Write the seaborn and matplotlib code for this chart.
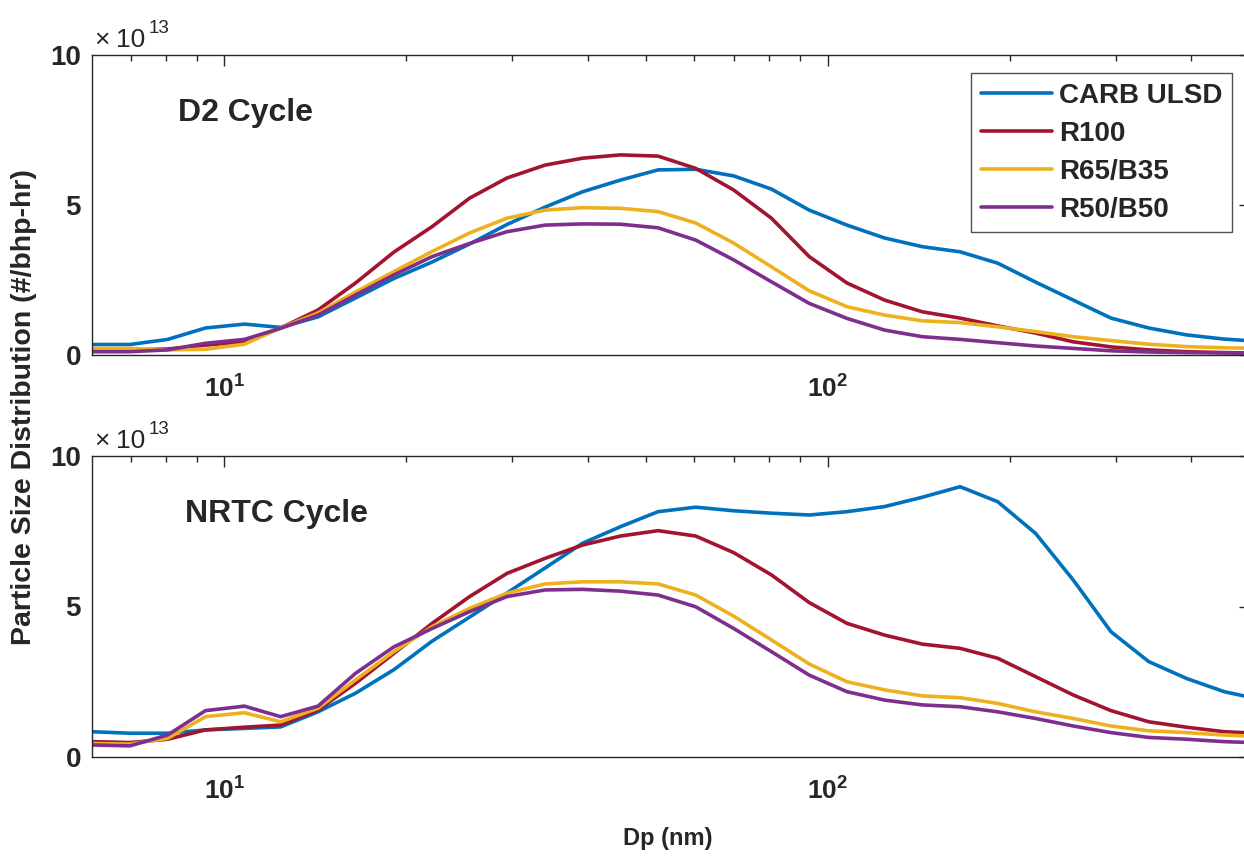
import numpy as np
import pandas as pd
import matplotlib
matplotlib.use('Agg')
import matplotlib.pyplot as plt
import seaborn as sns
from matplotlib.ticker import LogLocator, NullFormatter

# EEPS channel midpoints (nm)
dp_nm = [6.04, 6.98, 8.06, 9.31, 10.8, 12.4, 14.3, 16.5, 19.1, 22.1, 25.5, 29.4,
         34.0, 39.2, 45.3, 52.3, 60.4, 69.8, 80.6, 93.1, 107.5, 124.1, 143.3,
         165.5, 191.1, 220.7, 254.8, 294.3, 339.8, 392.4, 453.2, 523.3]

fuels = ['CARB ULSD', 'R100', 'R65/B35', 'R50/B50']
cycles = ['D2 Cycle', 'NRTC Cycle']

# values in units of 1e13 #/bhp-hr
d2_ulsd = [0.35, 0.35, 0.52, 0.90, 1.03, 0.92, 1.27, 1.90, 2.55, 3.10, 3.70, 4.35,
           4.93, 5.44, 5.83, 6.17, 6.19, 5.97, 5.53, 4.83, 4.33, 3.90, 3.61, 3.44,
           3.06, 2.43, 1.83, 1.23, 0.90, 0.67, 0.53, 0.45]
d2_r100 = [0.17, 0.17, 0.20, 0.33, 0.44, 0.90, 1.50, 2.40, 3.43, 4.28, 5.23, 5.90,
           6.33, 6.56, 6.67, 6.63, 6.22, 5.50, 4.56, 3.28, 2.40, 1.83, 1.44, 1.23,
           0.97, 0.73, 0.44, 0.27, 0.17, 0.11, 0.08, 0.06]
d2_r65 = [0.22, 0.22, 0.17, 0.19, 0.36, 0.90, 1.40, 2.10, 2.78, 3.45, 4.07, 4.56,
          4.83, 4.91, 4.89, 4.78, 4.40, 3.73, 2.94, 2.14, 1.61, 1.33, 1.14, 1.08,
          0.94, 0.78, 0.61, 0.48, 0.36, 0.28, 0.24, 0.22]
d2_r50 = [0.11, 0.11, 0.17, 0.39, 0.52, 0.89, 1.33, 2.00, 2.67, 3.28, 3.72, 4.11,
          4.33, 4.37, 4.36, 4.24, 3.83, 3.17, 2.44, 1.72, 1.22, 0.83, 0.61, 0.52,
          0.41, 0.30, 0.22, 0.14, 0.10, 0.08, 0.07, 0.06]

nrtc_ulsd = [0.84, 0.79, 0.79, 0.90, 0.95, 1.00, 1.50, 2.12, 2.90, 3.85, 4.65, 5.45,
             6.28, 7.10, 7.65, 8.15, 8.30, 8.18, 8.10, 8.04, 8.15, 8.32, 8.63, 8.98,
             8.48, 7.43, 5.88, 4.16, 3.17, 2.61, 2.17, 1.90]
nrtc_r100 = [0.51, 0.48, 0.59, 0.90, 0.99, 1.06, 1.56, 2.45, 3.44, 4.44, 5.33, 6.10,
             6.60, 7.04, 7.34, 7.52, 7.34, 6.79, 6.05, 5.13, 4.44, 4.05, 3.75, 3.61,
             3.28, 2.67, 2.06, 1.54, 1.17, 0.99, 0.84, 0.78]
nrtc_r65 = [0.45, 0.43, 0.62, 1.34, 1.47, 1.17, 1.62, 2.56, 3.50, 4.33, 4.94, 5.44,
            5.75, 5.82, 5.82, 5.75, 5.38, 4.68, 3.89, 3.09, 2.50, 2.23, 2.03, 1.97,
            1.78, 1.50, 1.28, 1.03, 0.87, 0.81, 0.73, 0.68]
nrtc_r50 = [0.40, 0.37, 0.73, 1.54, 1.69, 1.34, 1.69, 2.78, 3.66, 4.27, 4.83, 5.33,
            5.55, 5.57, 5.51, 5.38, 4.99, 4.27, 3.50, 2.72, 2.17, 1.89, 1.73, 1.67,
            1.50, 1.28, 1.03, 0.81, 0.65, 0.59, 0.51, 0.47]

colors = ['#0072BD', '#A2142F', '#EDB120', '#7E2F8E']

series = {
    'D2 Cycle': [d2_ulsd, d2_r100, d2_r65, d2_r50],
    'NRTC Cycle': [nrtc_ulsd, nrtc_r100, nrtc_r65, nrtc_r50],
}

rows = []
for cyc in cycles:
    for fuel, vals in zip(fuels, series[cyc]):
        for d, v in zip(dp_nm, vals):
            rows.append({'cycle': cyc, 'fuel': fuel, 'dp': d, 'psd': v})
df = pd.DataFrame(rows)

sns.set_style('white')
plt.rcParams['font.family'] = ['Liberation Sans', 'DejaVu Sans']
plt.rcParams['font.weight'] = 'bold'
plt.rcParams['mathtext.fontset'] = 'custom'
plt.rcParams['mathtext.rm'] = 'Liberation Sans'
plt.rcParams['mathtext.bf'] = 'Liberation Sans:bold'

W, H = 1244, 858
fig = plt.figure(figsize=(W / 100, H / 100), dpi=100)
ax_top = fig.add_axes([92 / W, 1 - 355 / H, (1250 - 92) / W, 300 / H])
ax_bot = fig.add_axes([92 / W, 1 - 757 / H, (1250 - 92) / W, 301 / H])

axis_col = '#262626'
for ax, cyc, top_px in zip([ax_top, ax_bot], cycles, [55, 456]):
    sns.lineplot(data=df[df['cycle'] == cyc], x='dp', y='psd', hue='fuel',
                 hue_order=fuels, palette=dict(zip(fuels, colors)),
                 linewidth=2.6, errorbar=None, legend=False, ax=ax)
    ax.set_xscale('log')
    ax.set_xlim(6.04, 500)
    ax.set_ylim(0, 10)
    ax.set_xlabel('')
    ax.set_ylabel('')
    ax.set_yticks([0, 5, 10])
    ax.set_yticklabels(['0', '5', '10'], fontsize=20, fontweight='bold')
    ax.set_xticks([10, 100])
    ax.set_xticklabels([r'$\mathbf{10^{1}}$', r'$\mathbf{10^{2}}$'], fontsize=19)
    ax.xaxis.set_minor_locator(LogLocator(base=10, subs=np.arange(2, 10)))
    ax.xaxis.set_minor_formatter(NullFormatter())
    ax.tick_params(which='both', direction='in', top=True, right=True,
                   color=axis_col, width=1.0)
    ax.tick_params(which='major', length=8)
    ax.tick_params(which='minor', length=4.5)
    ax.tick_params(axis='x', pad=15)
    ax.tick_params(axis='y', pad=8)
    for sp in ax.spines.values():
        sp.set_color(axis_col)
        sp.set_linewidth(1.0)
        sp.set_visible(True)

    # cycle label
    lx = 178 if cyc == 'D2 Cycle' else 185
    fig.text(lx / W, 1 - (top_px + 58) / H, cyc, fontsize=23, fontweight='bold',
             va='center', ha='left')

    # exponent multiplier
    fig.text(94 / W, 1 - (top_px - 8) / H, '\u00d7', fontsize=19,
             fontweight='normal', va='baseline', ha='left')
    fig.text(116 / W, 1 - (top_px - 8) / H, '10', fontsize=19,
             fontweight='normal', va='baseline', ha='left')
    fig.text(149 / W, 1 - (top_px - 22) / H, '13', fontsize=13.5,
             fontweight='normal', va='baseline', ha='left')

leg = ax_top.legend(ax_top.get_lines(), fuels, loc='upper right',
                    bbox_to_anchor=(1232 / W, 1 - 73 / H),
                    bbox_transform=fig.transFigure, borderaxespad=0,
                    fontsize=20, frameon=True, fancybox=False,
                    handlelength=2.55, handletextpad=0.25, labelspacing=0.43,
                    borderpad=0.35)
leg.get_frame().set_edgecolor(axis_col)
leg.get_frame().set_linewidth(1.0)
for t in leg.get_texts():
    t.set_fontweight('bold')

fig.text(24 / W, 1 - 407 / H, 'Particle Size Distribution (#/bhp-hr)',
         rotation=90, fontsize=20.5, fontweight='bold', ha='center', va='center')
fig.text(668 / W, 1 - 838 / H, 'Dp (nm)', fontsize=17, fontweight='bold',
         ha='center', va='center')

fig.savefig('out.png', dpi=100)
